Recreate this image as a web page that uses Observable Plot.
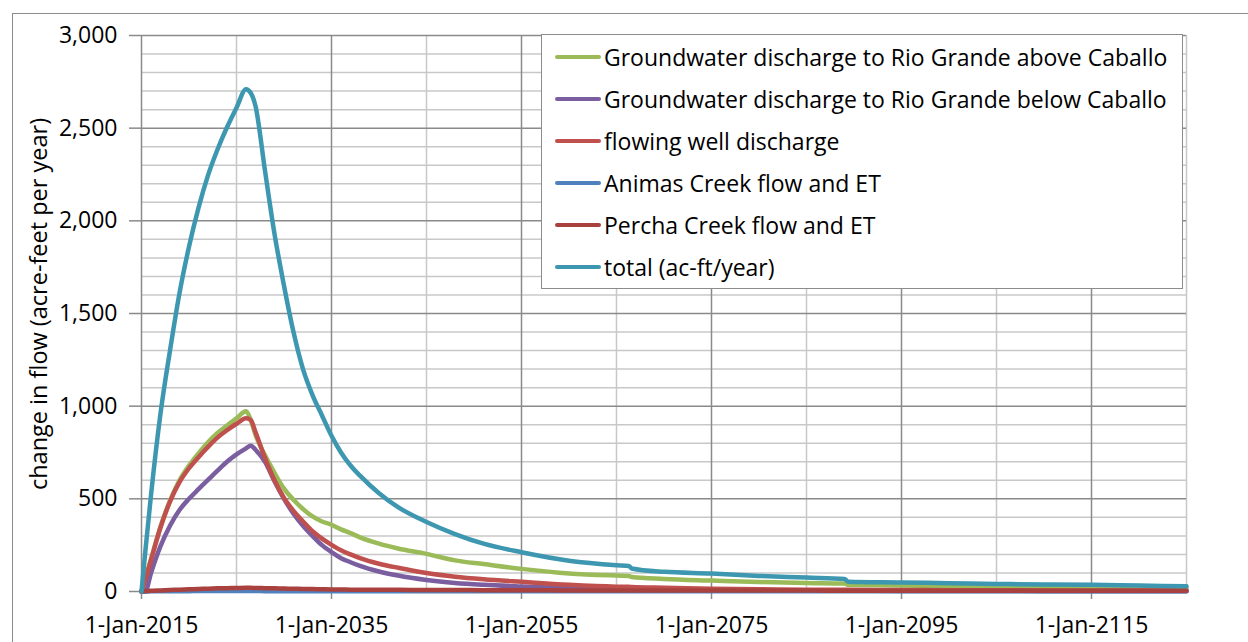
<!DOCTYPE html>
<html><head><meta charset="utf-8">
<script src="https://cdn.jsdelivr.net/npm/d3@7"></script>
<script src="https://cdn.jsdelivr.net/npm/@observablehq/plot@0.6"></script>
<style>
body{margin:0;background:#fff;overflow:hidden;font-family:"Open Sans",sans-serif;}
#wrap{position:relative;width:1248px;height:642px;overflow:hidden;}
#frame{position:absolute;left:12px;top:13px;width:1300px;height:700px;border:1.5px solid #8c8c8c;box-sizing:border-box;}
#chart{position:absolute;left:0;top:0;}
#ylabel{position:absolute;left:38px;top:304px;transform:translate(-50%,-50%) rotate(-90deg);white-space:nowrap;font-size:23.5px;color:#000;}
#legend{position:absolute;left:541px;top:34px;width:642px;height:255px;background:#fff;border:1.5px solid #8c8c8c;box-sizing:border-box;padding-top:1px;}
.row{height:42px;display:flex;align-items:center;font-size:23px;color:#000;white-space:nowrap;}
.sw{width:46px;height:4px;border-radius:2px;margin-left:13px;margin-right:3px;}
</style></head><body>
<div id="wrap"><div id="frame"></div><div id="chart"></div><div id="ylabel"></div><div id="legend"></div></div>
<script>
const years = [2015, 2015.4, 2016, 2017, 2018, 2019, 2020, 2021, 2022, 2023, 2024, 2025, 2026, 2026.5, 2027, 2028, 2029, 2030, 2031, 2032, 2033, 2034, 2035, 2036, 2037, 2038, 2040, 2042, 2045, 2048, 2051, 2055, 2060, 2065, 2066.3, 2066.6, 2070, 2075, 2080, 2085, 2089, 2089.4, 2095, 2100, 2105, 2110, 2115, 2120, 2125];
const gwAbove = [0, 70, 175, 350, 490, 600, 680, 745, 805, 855, 895, 935, 972, 925, 845, 735, 640, 555, 495, 445, 405, 378, 360, 335, 315, 292, 258, 232, 203, 168, 148, 122, 97, 86, 84, 78, 68, 59, 51, 46, 43, 36, 33, 30, 28, 26, 24, 22, 20];
const gwBelow = [0, 0, 100, 245, 355, 440, 500, 552, 602, 652, 700, 740, 772, 787, 765, 700, 595, 500, 420, 355, 300, 250, 212, 180, 158, 138, 108, 86, 62, 46, 36, 27, 18, 12, 11, 11, 9, 7, 6, 5, 4, 4, 3, 3, 3, 2, 2, 2, 2];
const flowingWell = [0, 65, 170, 345, 485, 590, 665, 725, 780, 830, 870, 905, 935, 925, 860, 720, 600, 505, 435, 378, 325, 285, 252, 222, 200, 180, 150, 128, 100, 80, 66, 52, 36, 26, 25, 24, 20, 15, 12, 10, 9, 9, 8, 7, 7, 6, 6, 6, 6];
const animas = [0, 0, 1, 1, 2, 2, 2, 3, 3, 3, 3, 3, 3, 3, 3, 2, 2, 2, 2, 2, 1, 1, 1, 1, 1, 1, 1, 1, 1, 1, 1, 1, 1, 1, 1, 1, 1, 1, 1, 1, 1, 1, 1, 1, 1, 1, 1, 1, 1];
const percha = [0, 2, 4, 6, 8, 10, 12, 14, 15, 17, 18, 19, 20, 20, 19, 18, 17, 16, 15, 14, 13, 12, 11, 11, 10, 10, 9, 9, 8, 8, 7, 7, 6, 6, 6, 6, 5, 5, 5, 5, 4, 4, 4, 4, 4, 4, 4, 4, 4];
const total = [0, 215, 520, 960, 1300, 1610, 1860, 2070, 2245, 2385, 2505, 2610, 2710, 2690, 2620, 2270, 1930, 1650, 1400, 1200, 1060, 950, 840, 750, 680, 625, 530, 455, 375, 310, 258, 212, 166, 142, 138, 124, 106, 97, 84, 75, 67, 53, 49, 45, 41, 38, 36, 32, 28];

const seriesNames = ["Groundwater discharge to Rio Grande above Caballo", "Groundwater discharge to Rio Grande below Caballo", "flowing well discharge", "Animas Creek flow and ET", "Percha Creek flow and ET", "total (ac-ft/year)"];
const seriesValues = [gwAbove, gwBelow, flowingWell, animas, percha, total];
const seriesColors = ["#9BBB59", "#7B5E9F", "#C0504D", "#4F81BD", "#A9423F", "#3D97B0"];
const xTicks = [2015, 2035, 2055, 2075, 2095, 2115];
const yTicks = [0, 500, 1000, 1500, 2000, 2500, 3000];
const yLabel = "change in flow (acre-feet per year)";

const rows = seriesNames.flatMap((name, s) => years.map((yr, i) => ({series: name, year: yr, value: seriesValues[s][i]})));
const minorY = d3.range(100, 3001, 100).filter(v => v % 500 !== 0);
const majorY = yTicks.filter(v => v > 0);
const minorX = d3.range(2025, 2126, 20);
const majorX = xTicks.filter(v => v > 2015);

const chart = Plot.plot({
  width: 1248, height: 642,
  marginLeft: 141, marginRight: 62, marginTop: 35, marginBottom: 51,
  x: {domain: [2015, 2125]},
  y: {domain: [0, 3000]},
  color: {domain: seriesNames, range: seriesColors},
  style: {fontFamily: "Open Sans", fontSize: "23px", color: "#000", background: "transparent", overflow: "visible"},
  marks: [
    Plot.ruleY(minorY, {stroke: "#c8c8c8", strokeWidth: 1.5}),
    Plot.ruleX(minorX, {stroke: "#c8c8c8", strokeWidth: 1.5}),
    Plot.ruleY(majorY, {stroke: "#8a8a8a", strokeWidth: 1.5}),
    Plot.ruleX(majorX, {stroke: "#8a8a8a", strokeWidth: 1.5}),
    Plot.axisY({ticks: yTicks, tickSize: 12, tickPadding: 12, tickFormat: d3.format(","), stroke: "#8a8a8a", strokeWidth: 1.5, label: null, fill: "#000"}),
    Plot.axisX({ticks: xTicks, tickSize: 8, tickPadding: 17, tickFormat: d => `1-Jan-${d}`, stroke: "#8a8a8a", strokeWidth: 1.5, label: null, fill: "#000"}),
    Plot.ruleY([0], {stroke: "#8a8a8a", strokeWidth: 1.5}),
    Plot.ruleX([2015], {stroke: "#8a8a8a", strokeWidth: 1.5}),
    Plot.line(rows, {x: "year", y: "value", z: "series", stroke: "series", strokeWidth: 4.5, curve: "monotone-x"})
  ]
});
document.getElementById("chart").appendChild(chart);
document.getElementById("ylabel").textContent = yLabel;
const legend = document.getElementById("legend");
seriesNames.forEach((name, i) => {
  const row = document.createElement("div");
  row.className = "row";
  const sw = document.createElement("div");
  sw.className = "sw";
  sw.style.background = seriesColors[i];
  const t = document.createElement("span");
  t.textContent = name;
  row.appendChild(sw); row.appendChild(t);
  legend.appendChild(row);
});
</script>
</body></html>
